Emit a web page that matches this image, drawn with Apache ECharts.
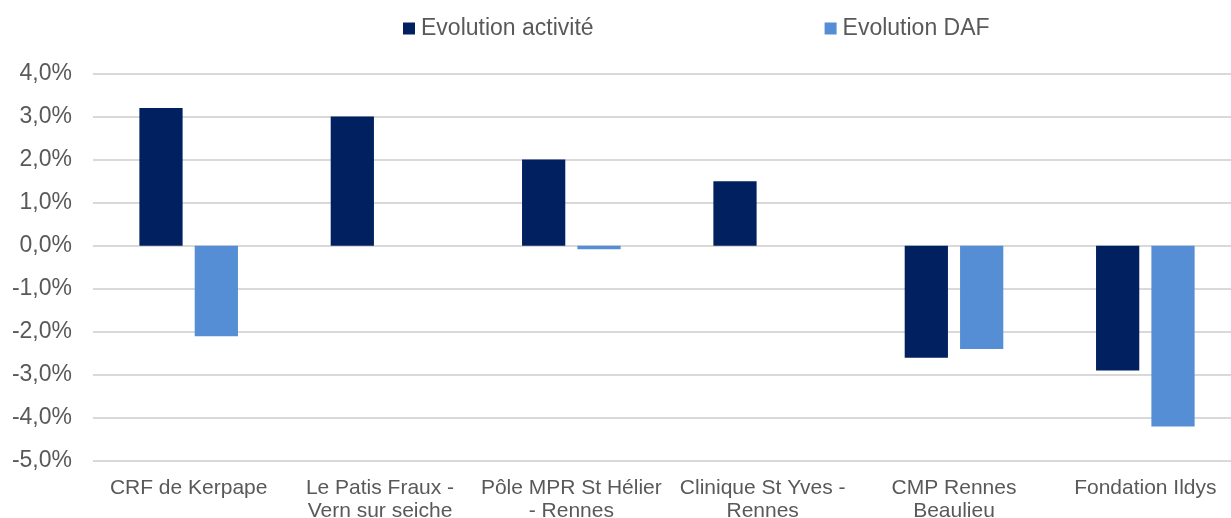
<!DOCTYPE html>
<html lang="fr">
<head>
  <meta charset="UTF-8">
  <title>Evolution activité / DAF</title>
  <script src="https://cdn.jsdelivr.net/npm/echarts@6/dist/echarts.min.js"></script>
  <style>
    body { margin: 0; background: #ffffff; }
    #main { width: 1231px; height: 518px; }
  </style>
</head>
<body>
  <div id="main"></div>
  <script>
    // données
    const categories = [
      'CRF de Kerpape',
      'Le Patis Fraux -\nVern sur seiche',
      'Pôle MPR St Hélier\n- Rennes',
      'Clinique St Yves -\nRennes',
      'CMP Rennes\nBeaulieu',
      'Fondation Ildys'
    ];
    const evolActivite = [3.2, 3.0, 2.0, 1.5, -2.6, -2.9];
    const evolDAF = [-2.1, 0, -0.08, 0, -2.4, -4.2];

    const txt = '#595959';
    const font = "'Liberation Sans', Arial, sans-serif";

    var myChart = echarts.init(document.getElementById('main'));

    var option = {
      backgroundColor: '#ffffff',
      animation: false,
      textStyle: { fontFamily: font },
      legend: {
        top: 17,
        left: 403,
        padding: 0,
        itemWidth: 12,
        itemHeight: 12,
        itemGap: 231,
        icon: 'rect',
        textStyle: { color: txt, fontSize: 23, fontFamily: font, padding: [0, 0, 0, 1] },
        data: ['Evolution activité', 'Evolution DAF']
      },
      grid: {
        left: 93, right: -10, top: 73.5, bottom: 57,
        containLabel: false, outerBoundsMode: 'none'
      },
      xAxis: {
        type: 'category',
        data: categories,
        axisLine: { show: false, onZero: false },
        axisTick: { show: false },
        axisLabel: {
          color: txt, fontSize: 21, lineHeight: 23, margin: 16,
          fontFamily: font, interval: 0
        }
      },
      yAxis: {
        type: 'value',
        min: -5,
        max: 4,
        interval: 1,
        axisLine: { show: false },
        axisTick: { show: false },
        axisLabel: {
          color: txt, fontSize: 23, margin: 21, fontFamily: font,
          padding: [3, 0, 0, 0],
          formatter: v => (Math.abs(v) < 1e-9 ? 0 : v).toFixed(1).replace('.', ',') + '%'
        },
        splitLine: { lineStyle: { color: '#d9d9d9', width: 2 } }
      },
      series: [
        {
          name: 'Evolution activité',
          type: 'bar',
          data: evolActivite,
          barWidth: '22.6%',
          barGap: '28%',
          itemStyle: { color: '#002060' }
        },
        {
          name: 'Evolution DAF',
          type: 'bar',
          data: evolDAF,
          barWidth: '22.6%',
          itemStyle: { color: '#558ED5' }
        }
      ]
    };

    myChart.setOption(option);
  </script>
</body>
</html>
